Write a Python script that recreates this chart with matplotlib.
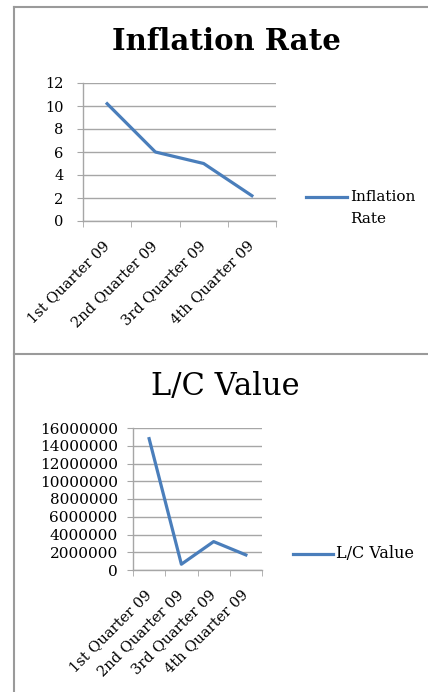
import matplotlib
matplotlib.use('Agg')
from matplotlib import pyplot as plt
from matplotlib.lines import Line2D
import numpy as np

plt.rcParams['font.family'] = 'DejaVu Serif'

quarters = ['1st Quarter 09', '2nd Quarter 09', '3rd Quarter 09', '4th Quarter 09']
inflation_rate = [10.2, 6.0, 5.0, 2.2]
lc_value = [14800000, 650000, 3200000, 1700000]
inflation_ticks = [0, 2, 4, 6, 8, 10, 12]
lc_ticks = [0, 2000000, 4000000, 6000000, 8000000, 10000000, 12000000, 14000000, 16000000]

W, H = 428, 692
line_color = '#4a7ebb'
grid_color = '#a6a6a6'

fig = plt.figure(figsize=(W / 100, H / 100), dpi=100)


def px_axes(x0, x1, y0, y1):
    # pixel box (top-left origin) -> figure fraction
    return fig.add_axes([x0 / W, 1 - y1 / H, (x1 - x0) / W, (y1 - y0) / H])


def style_axes(ax, values, yticks, ylabel_size, ypad):
    x = np.arange(len(quarters))
    ax.plot(x, values, color=line_color, lw=2.3, solid_joinstyle='round')
    ax.set_xlim(-0.5, len(quarters) - 0.5)
    ax.set_ylim(yticks[0], yticks[-1])
    ax.set_yticks(yticks)
    ax.set_yticklabels([str(t) for t in yticks])
    ax.yaxis.grid(True, color=grid_color, lw=1)
    ax.set_axisbelow(True)
    for s in ['top', 'right']:
        ax.spines[s].set_visible(False)
    for s in ['left', 'bottom']:
        ax.spines[s].set_color(grid_color)
        ax.spines[s].set_linewidth(1)
    ax.tick_params(axis='y', length=4, color=grid_color, labelsize=ylabel_size, pad=ypad)
    ax.set_xticks(x)
    ax.set_xticks(np.arange(len(quarters) + 1) - 0.5, minor=True)
    ax.set_xticklabels(quarters, rotation=45, ha='right', va='center',
                       rotation_mode='anchor', fontsize=10.5)
    ax.tick_params(axis='x', which='major', length=0, pad=16)
    ax.tick_params(axis='x', which='minor', length=4, color=grid_color)


# Inflation Rate panel
ax1 = px_axes(83, 276, 83, 221)
style_axes(ax1, inflation_rate, inflation_ticks, 10.5, 10)
fig.text(226 / W, 1 - 41 / H, 'Inflation Rate', ha='center', va='center',
         fontsize=21, fontweight='bold')
fig.add_artist(Line2D([306 / W, 347 / W], [1 - 197 / H] * 2, color=line_color, lw=2.3))
fig.text(350 / W, 1 - 197 / H, 'Inflation', ha='left', va='center', fontsize=11)
fig.text(350 / W, 1 - 219 / H, 'Rate', ha='left', va='center', fontsize=11)

# L/C Value panel
ax2 = px_axes(133, 262, 428, 570)
style_axes(ax2, lc_value, lc_ticks, 11, 7)
fig.text(225 / W, 1 - 386 / H, 'L/C Value', ha='center', va='center', fontsize=22)
fig.add_artist(Line2D([293 / W, 333 / W], [1 - 554 / H] * 2, color=line_color, lw=2.3))
fig.text(336 / W, 1 - 554 / H, 'L/C Value', ha='left', va='center', fontsize=11.5)

# chart borders
border = dict(color='#9a9a9a', lw=1.5)
fig.add_artist(Line2D([14 / W, 14 / W], [0, 1 - 7 / H], **border))
fig.add_artist(Line2D([14 / W, 1], [1 - 7 / H] * 2, **border))
fig.add_artist(Line2D([14 / W, 1], [1 - 354 / H] * 2, **border))

fig.savefig('out.png', dpi=100)
